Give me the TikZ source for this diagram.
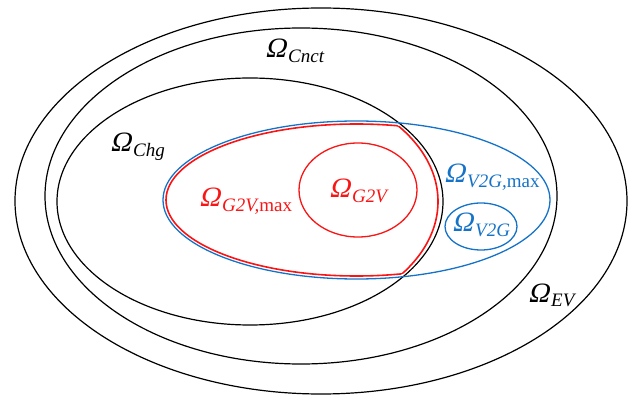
\documentclass[tikz,border=0pt]{standalone}
\usepackage{fontspec}
\setmainfont{Liberation Serif}
\newfontfamily\omfont[FakeSlant=0.22]{Liberation Serif}
\definecolor{vblue}{RGB}{20,115,200}
\definecolor{gred}{RGB}{250,20,20}
\newcommand\omlab[1]{{\fontsize{28}{30}\omfont Ω}\kern2.2pt\raisebox{-5pt}{\fontsize{19}{21}\selectfont #1}}
\begin{document}
\begin{tikzpicture}[x=1pt,y=-1pt,
  ring/.style={draw=black,line width=1.2pt},
  bluering/.style={draw=vblue,line width=1.3pt},
  redring/.style={draw=gred,line width=1.3pt},
  lab/.style={inner sep=0pt,anchor=base west}]
\useasboundingbox (0,0) rectangle (629,395);
% black sets
\draw[ring] (321,201) ellipse [x radius=306pt, y radius=193pt];
\draw[ring] (301,196) ellipse [x radius=256pt, y radius=168pt];
\draw[ring] (250,201.5) ellipse [x radius=193pt, y radius=123.5pt];
% blue V2G,max
\draw[bluering] (356.5,200) ellipse [x radius=193.5pt, y radius=79pt];
% red G2V,max = intersection (slightly inset)
\begin{scope}
  \clip (250,201.5) ellipse [x radius=188pt, y radius=123pt];
  \draw[redring,line width=1.6pt] (356.5,200) ellipse [x radius=190.5pt, y radius=76pt];
\end{scope}
\begin{scope}
  \clip (356.5,200) ellipse [x radius=190.5pt, y radius=76pt];
  \draw[redring,line width=1.6pt] (250,201.5) ellipse [x radius=188pt, y radius=123pt];
\end{scope}
% inner sets
\draw[redring] (358,190) ellipse [x radius=59pt, y radius=47pt];
\draw[bluering] (481,226.5) ellipse [x radius=36pt, y radius=23.5pt];
% labels
\node[lab] (cnct) at (265,58) {\omlab{\textit{Cnct}}};
\node[lab] (chg) at (110,152) {\omlab{\textit{Chg}}};
\node[lab,text=gred] (g2vmax) at (199,207) {\omlab{\textit{G2V,}max}};
\node[lab,text=gred] (g2v) at (329,198) {\omlab{\textit{G2V}}};
\node[lab,text=vblue] (v2gmax) at (444,183) {\omlab{\textit{V2G,}max}};
\node[lab,text=vblue] (v2g) at (452,232) {\omlab{\textit{V2G}}};
\node[lab] (ev) at (528,302) {\omlab{\textit{EV}}};
\end{tikzpicture}
\end{document}
